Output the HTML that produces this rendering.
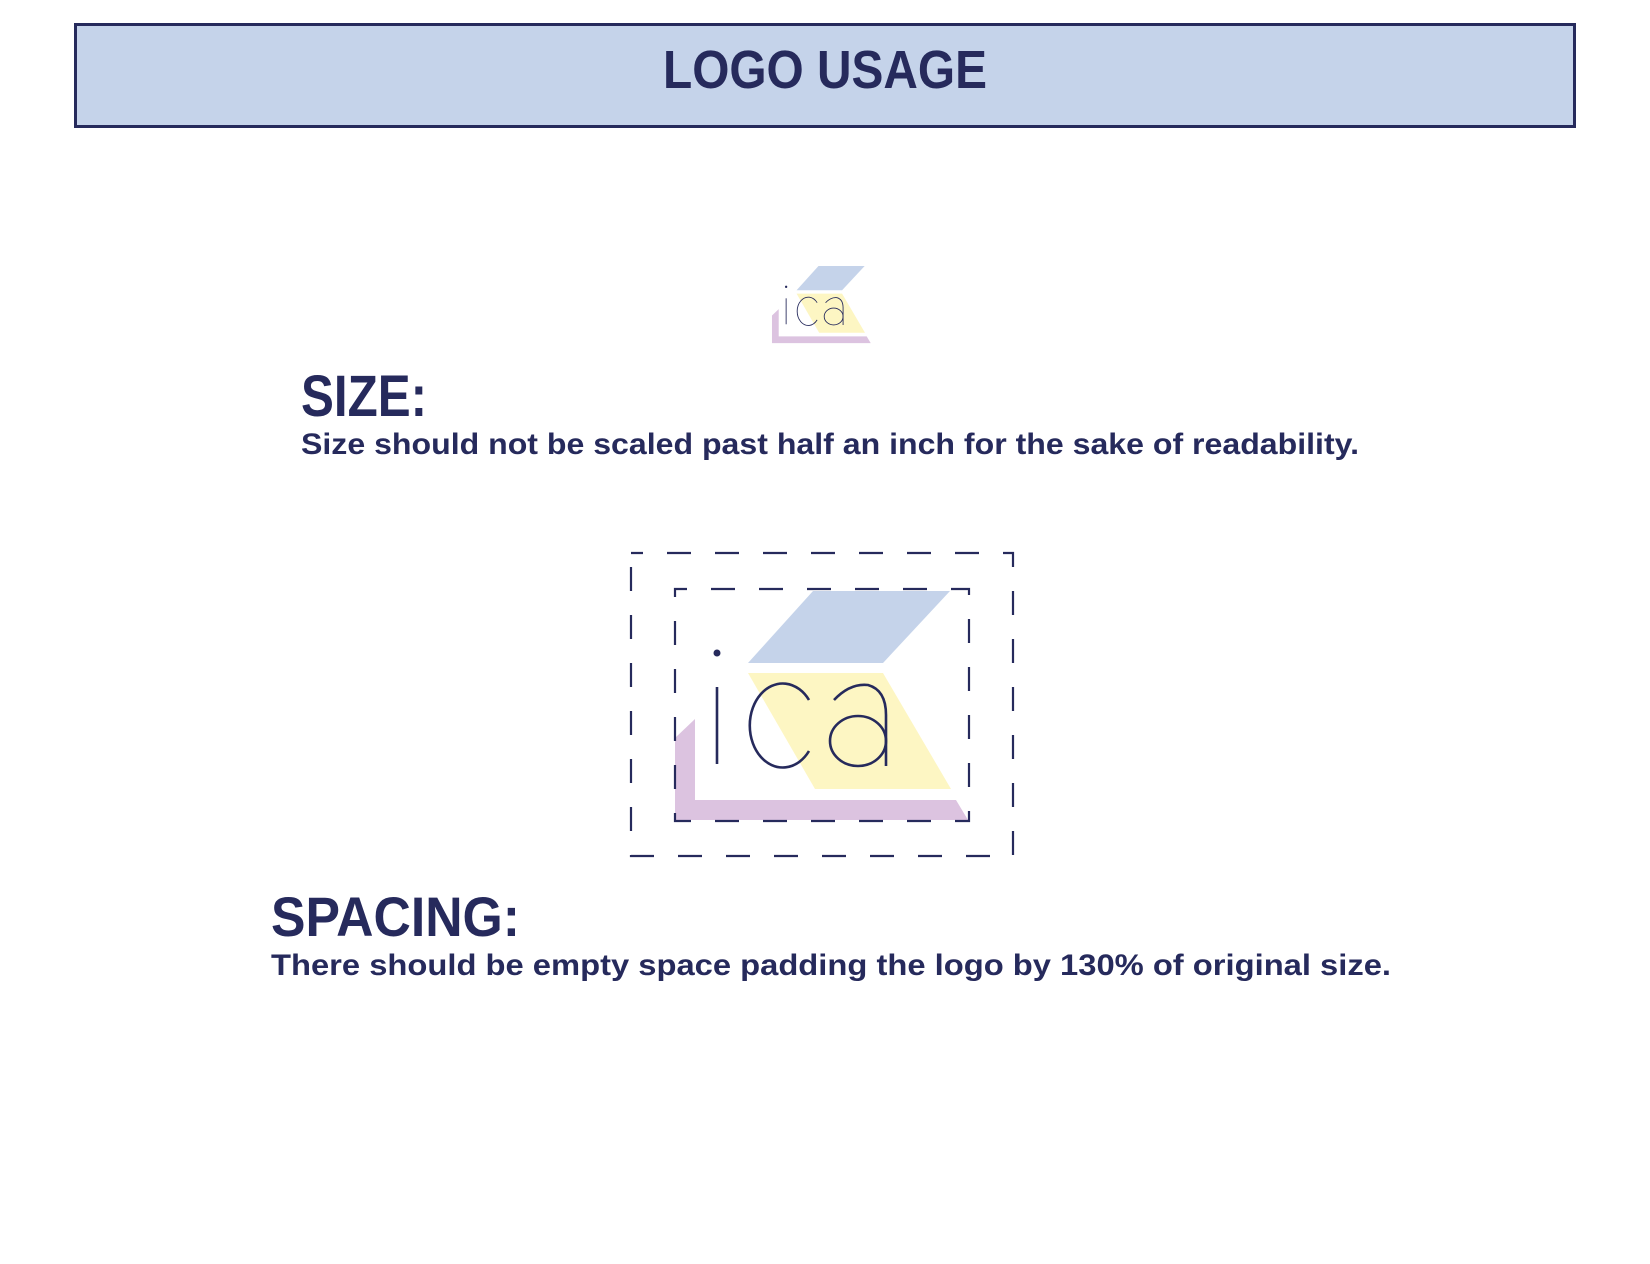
<!DOCTYPE html>
<html><head><meta charset="utf-8"><style>
html,body{margin:0;padding:0;background:#fff;width:1650px;height:1264px;overflow:hidden}
text{font-family:"Liberation Sans",sans-serif;font-weight:bold;fill:#262a5c}
</style></head><body>
<svg width="1650" height="1264" viewBox="0 0 1650 1264" xmlns="http://www.w3.org/2000/svg">
<defs>
<g id="logo">
<polygon points="813,591 950,591 883,663 748,663" fill="#c5d3ea"/>
<polygon points="748,673 883,673 951,789 815,789" fill="#fdf6c3"/>
<polygon points="675,738 695,719 695,800 956,800 968,820 675,820" fill="#dcc3e0"/>
<circle cx="717" cy="653" r="3.5" fill="#262a5c"/>
<line x1="717" y1="687" x2="717" y2="764" stroke="#262a5c" stroke-width="2.6"/>
<path d="M809,700 A33,42 0 1 0 809,751" fill="none" stroke="#262a5c" stroke-width="2.6"/>
<path d="M834,700 Q850,683 868,685 Q886,690 886,715 L886,766" fill="none" stroke="#262a5c" stroke-width="2.6"/>
<ellipse cx="858" cy="741" rx="28" ry="25" fill="none" stroke="#262a5c" stroke-width="2.6"/>
</g>
</defs>
<rect x="75.5" y="24.5" width="1499" height="102" fill="#c5d3ea" stroke="#262a5c" stroke-width="3"/>
<text x="825" y="88" font-size="54" text-anchor="middle" textLength="324" lengthAdjust="spacingAndGlyphs">LOGO USAGE</text>
<g transform="translate(544.5,66.8) scale(0.337)"><use href="#logo"/></g>
<text x="301" y="416" font-size="58" textLength="126" lengthAdjust="spacingAndGlyphs">SIZE:</text>
<text x="301" y="454" font-size="30" textLength="1058" lengthAdjust="spacingAndGlyphs">Size should not be scaled past half an inch for the sake of readability.</text>
<use href="#logo"/>
<rect x="631" y="553" width="382" height="303" fill="none" stroke="#262a5c" stroke-width="2.2" stroke-dasharray="24,24" stroke-dashoffset="12"/>
<rect x="675" y="589" width="294" height="232" fill="none" stroke="#262a5c" stroke-width="2.2" stroke-dasharray="24,24" stroke-dashoffset="12"/>
<text x="271" y="936" font-size="56" textLength="249" lengthAdjust="spacingAndGlyphs">SPACING:</text>
<text x="271" y="975" font-size="30" textLength="1120" lengthAdjust="spacingAndGlyphs">There should be empty space padding the logo by 130% of original size.</text>
</svg>
</body></html>
